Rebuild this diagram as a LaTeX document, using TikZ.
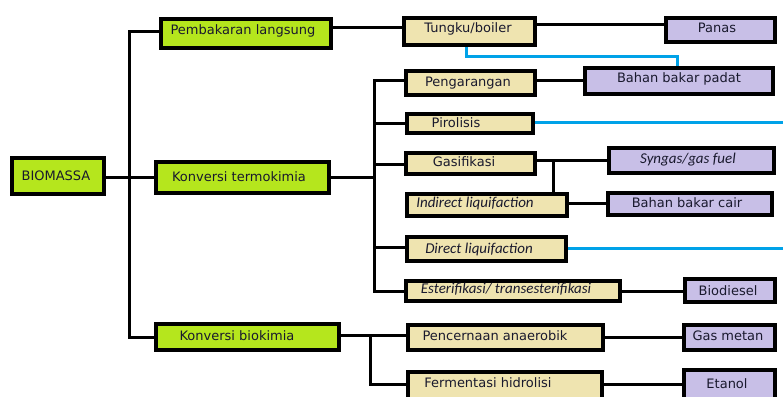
\documentclass[tikz,border=0pt]{standalone}
\usepackage{fontspec}
\setmainfont{DejaVu Sans}
\newfontfamily\itf{Carlito}
\usetikzlibrary{backgrounds}
\definecolor{gfill}{HTML}{B5E61D}
\definecolor{tfill}{HTML}{EFE4B0}
\definecolor{pfill}{HTML}{C8BFE7}
\definecolor{bline}{HTML}{00A2E8}
\definecolor{txt}{RGB}{25,25,45}
\tikzset{
  bx/.style={draw=black, line width=3.6pt, inner sep=0pt, rectangle},
  gbox/.style={bx, fill=gfill},
  tbox/.style={bx, fill=tfill},
  pbox/.style={bx, fill=pfill},
  lbl/.style={inner sep=0pt, anchor=base, text=txt, font=\fontsize{13}{15}\selectfont},
  ilbl/.style={inner sep=0pt, anchor=base, text=txt, font=\itf\itshape\fontsize{15}{17}\selectfont},
  conn/.style={draw=black, line width=3pt},
  bconn/.style={draw=bline, line width=3pt},
}
\begin{document}
\begin{tikzpicture}[x=1pt,y=-1pt]
\useasboundingbox (0,0) rectangle (783,396);
\clip (0,0) rectangle (783,396);
% boxes
\node[gbox, minimum width=92pt, minimum height=36pt] (biomassa) at (58,176) {};
\node[gbox, minimum width=170pt, minimum height=29pt] (pemb) at (246,33.5) {};
\node[gbox, minimum width=173pt, minimum height=31pt] (termo) at (242.5,177.5) {};
\node[gbox, minimum width=183pt, minimum height=26pt] (bio) at (247.5,337) {};
\node[tbox, minimum width=131pt, minimum height=27pt] (tungku) at (469.5,31.5) {};
\node[pbox, minimum width=109pt, minimum height=24pt] (panas) at (720.5,30) {};
\node[pbox, minimum width=188pt, minimum height=26pt] (padat) at (679,81) {};
\node[tbox, minimum width=129pt, minimum height=24pt] (peng) at (470.5,83) {};
\node[tbox, minimum width=126pt, minimum height=19pt] (piro) at (470,123.5) {};
\node[tbox, minimum width=129pt, minimum height=21pt] (gasi) at (470.5,163.5) {};
\node[pbox, minimum width=165pt, minimum height=25pt] (syngas) at (691.5,160.5) {};
\node[tbox, minimum width=160pt, minimum height=22pt] (indirect) at (487,205) {};
\node[pbox, minimum width=164pt, minimum height=22pt] (cair) at (690,204) {};
\node[tbox, minimum width=159pt, minimum height=24pt] (direct) at (486.5,249) {};
\node[tbox, minimum width=214pt, minimum height=20pt] (ester) at (513,291) {};
\node[pbox, minimum width=90pt, minimum height=23pt] (biodiesel) at (730,290.5) {};
\node[tbox, minimum width=195pt, minimum height=25pt] (pencern) at (505.5,337.5) {};
\node[pbox, minimum width=91pt, minimum height=25pt] (gasmetan) at (729.5,337.5) {};
\node[tbox, minimum width=194pt, minimum height=36pt] (ferment) at (505,390) {};
\node[pbox, minimum width=91pt, minimum height=38pt] (etanol) at (729.5,389) {};
% labels
\node[lbl] (tbiomassa) at (56,180.5) {BIOMASSA};
\node[lbl] (tpemb) at (243,35) {Pembakaran langsung};
\node[lbl] (ttermo) at (239,181) {Konversi termokimia};
\node[lbl] (tbio) at (237,340) {Konversi biokimia};
\node[lbl] (ttungku) at (468,33) {Tungku/boiler};
\node[lbl] (tpanas) at (717,33) {Panas};
\node[lbl] (tpadat) at (679,82) {Bahan bakar padat};
\node[lbl] (tpeng) at (468,86) {Pengarangan};
\node[lbl] (tpiro) at (456,127.5) {Pirolisis};
\node[lbl] (tgasi) at (464,166.5) {Gasifikasi};
\node[ilbl] (tsyngas) at (688,163) {Syngas/gas fuel};
\node[ilbl] (tindirect) at (475,207.5) {Indirect liquifaction};
\node[lbl] (tcair) at (687,207.5) {Bahan bakar cair};
\node[ilbl] (tdirect) at (479,253.5) {Direct liquifaction};
\node[ilbl] (tester) at (506,293.5) {Esterifikasi/ transesterifikasi};
\node[lbl] (tbiodiesel) at (728,295) {Biodiesel};
\node[lbl] (tpencern) at (495,340.5) {Pencernaan anaerobik};
\node[lbl] (tgasmetan) at (728,340.5) {Gas metan};
\node[lbl] (tferment) at (488,387.5) {Fermentasi hidrolisi};
\node[lbl] (tetanol) at (727,388.5) {Etanol};
% junction coordinates
\coordinate (j0) at (129,177);
\coordinate (jtop) at (129,32);
\coordinate (jbot) at (129,337);
\coordinate (k0) at (374,177);
\coordinate (ktop) at (374,80);
\coordinate (kbot) at (374,291);
\coordinate (m0) at (370,335);
\coordinate (mbot) at (370,384);
\coordinate (g0) at (553,160);
\coordinate (piroend) at (783,122);
\coordinate (directend) at (783,248);
\begin{scope}[on background layer]
\draw[conn] (biomassa.east |- j0) -- (j0);
\draw[conn] (pemb.west |- jtop) -- (jtop) -- (jbot) -- (bio.west |- jbot);
\draw[conn] (j0) -- (termo.west |- j0);
\draw[conn] (pemb.east |- 0,28) -- (tungku.west |- 0,28);
\draw[conn] (tungku.east |- 0,25) -- (panas.west |- 0,25);
\draw[bconn] (466,0 |- tungku.south) -- (466,56) -- (677,56) -- (677,0 |- padat.north);
\draw[conn] (termo.east |- k0) -- (k0);
\draw[conn] (peng.west |- ktop) -- (ktop) -- (kbot) -- (ester.west |- kbot);
\draw[conn] (peng.east |- ktop) -- (padat.west |- ktop);
\draw[conn] (374,123) -- (piro.west |- 0,123);
\draw[bconn] (piro.east |- piroend) -- (piroend);
\draw[conn] (374,164) -- (gasi.west |- 0,164);
\draw[conn] (gasi.east |- g0) -- (syngas.west |- g0);
\draw[conn] (g0) -- (g0 |- indirect.north);
\draw[conn] (indirect.east |- 0,203) -- (cair.west |- 0,203);
\draw[conn] (374,247) -- (direct.west |- 0,247);
\draw[bconn] (direct.east |- directend) -- (directend);
\draw[conn] (ester.east |- kbot) -- (biodiesel.west |- kbot);
\draw[conn] (bio.east |- m0) -- (m0) -- (mbot) -- (ferment.west |- mbot);
\draw[conn] (m0) -- (pencern.west |- m0);
\draw[conn] (pencern.east |- 0,337) -- (gasmetan.west |- 0,337);
\draw[conn] (ferment.east |- mbot) -- (etanol.west |- mbot);
\end{scope}
\end{tikzpicture}
\end{document}
